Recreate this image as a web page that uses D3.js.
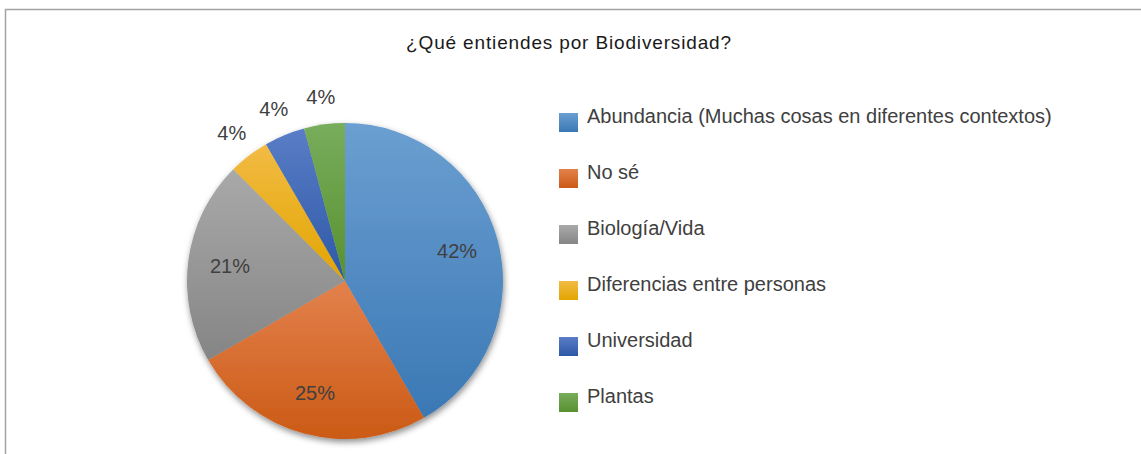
<!DOCTYPE html>
<html>
<head>
<meta charset="utf-8">
<title>¿Qué entiendes por Biodiversidad?</title>
<style>
  body { margin: 0; background: #fff; }
  text { font-family: "Liberation Sans", Arial, sans-serif; fill: #404040; }
</style>
</head>
<body>
<script src="https://cdn.jsdelivr.net/npm/d3@7/dist/d3.min.js"></script>
<script>
// data
var categories = ["Abundancia (Muchas cosas en diferentes contextos)", "No sé", "Biología/Vida",
                  "Diferencias entre personas", "Universidad", "Plantas"];
var responses = [10, 6, 5, 1, 1, 1];
var colorsTop = ["#6b9fd1", "#e3814c", "#a9a9a9", "#f2bb44", "#5a7dc6", "#78ad5c"];
var colorsBottom = ["#3a78b4", "#cb5a15", "#858585", "#e2a500", "#2c58a6", "#58912f"];
var title = "¿Qué entiendes por Biodiversidad?";

var width = 1141, height = 454;
var cx = 345, cy = 281, radius = 158;

var svg = d3.select("body").append("svg")
    .attr("width", width)
    .attr("height", height);

var defs = svg.append("defs");

var shadow = defs.append("filter")
    .attr("id", "shadow")
    .attr("x", "-20%").attr("y", "-20%")
    .attr("width", "140%").attr("height", "140%");
shadow.append("feDropShadow")
    .attr("dx", 1).attr("dy", 3)
    .attr("stdDeviation", 3)
    .attr("flood-color", "#000")
    .attr("flood-opacity", 0.45);

categories.forEach(function(c, i) {
    var g = defs.append("linearGradient")
        .attr("id", "grad" + i)
        .attr("x1", 0).attr("y1", 0)
        .attr("x2", 0).attr("y2", 1);
    g.append("stop").attr("offset", "0%").attr("stop-color", colorsTop[i]);
    g.append("stop").attr("offset", "100%").attr("stop-color", colorsBottom[i]);
});

// frame
svg.append("rect")
    .attr("x", 5.5).attr("y", 9.5)
    .attr("width", 1300).attr("height", 600)
    .attr("fill", "none")
    .attr("stroke", "#a3a3a3")
    .attr("stroke-width", 1.5);

svg.append("text")
    .attr("x", 569)
    .attr("y", 49)
    .attr("text-anchor", "middle")
    .attr("font-size", "19px")
    .attr("letter-spacing", "0.85px")
    .style("fill", "#1a1a1a")
    .text(title);

var total = d3.sum(responses);
var pct = d3.format(".0%");

var pie = d3.pie().sort(null).value(function(d) { return d; });
var arcs = pie(responses);

var arc = d3.arc().innerRadius(0).outerRadius(radius);
var inLabel = d3.arc().innerRadius(116).outerRadius(116);
var outLabel = d3.arc().innerRadius(186).outerRadius(186);

var chart = svg.append("g")
    .attr("transform", "translate(" + cx + "," + cy + ")");

chart.append("g")
    .attr("filter", "url(#shadow)")
    .selectAll("path")
    .data(arcs)
    .enter()
    .append("path")
    .attr("d", arc)
    .attr("fill", function(d, i) { return "url(#grad" + i + ")"; });

chart.selectAll(".lbl")
    .data(arcs)
    .enter()
    .append("text")
    .attr("class", "lbl")
    .attr("text-anchor", "middle")
    .attr("dy", "0.35em")
    .attr("font-size", "20px")
    .attr("transform", function(d) {
        var big = d.data / total > 0.1;
        var p = big ? inLabel.centroid(d) : outLabel.centroid(d);
        return "translate(" + p[0] + "," + p[1] + ")";
    })
    .text(function(d) { return pct(d.data / total); });

// legend
var ly = d3.scaleBand()
    .domain(categories)
    .range([113, 113 + 56 * categories.length]);

var legend = svg.append("g").selectAll("g")
    .data(categories)
    .enter()
    .append("g")
    .attr("transform", function(d) { return "translate(559," + ly(d) + ")"; });

legend.append("rect")
    .attr("width", 19).attr("height", 19)
    .attr("fill", function(d, i) { return "url(#grad" + i + ")"; });

legend.append("text")
    .attr("x", 28)
    .attr("y", 10)
    .attr("font-size", "20px")
    .text(function(d) { return d; });
</script>
</body>
</html>
